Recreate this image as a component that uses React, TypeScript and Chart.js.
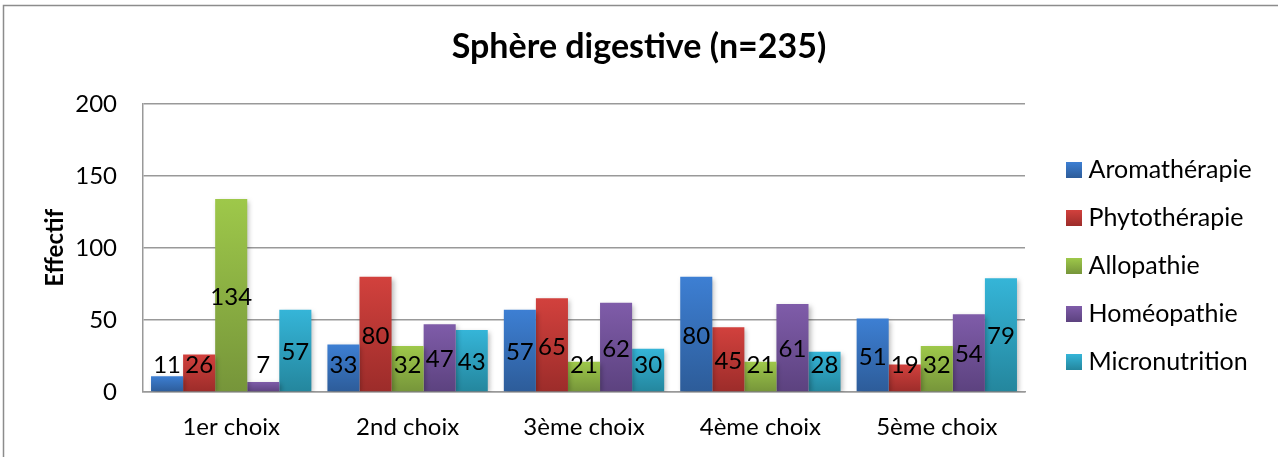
import React, { useEffect, useRef } from "react";
import { Chart, registerables } from "chart.js";

Chart.register(...registerables);

const categories = ["1er choix", "2nd choix", "3ème choix", "4ème choix", "5ème choix"];
const seriesNames = ["Aromathérapie", "Phytothérapie", "Allopathie", "Homéopathie", "Micronutrition"];
const aromatherapie = [11, 33, 57, 80, 51];
const phytotherapie = [26, 80, 65, 45, 19];
const allopathie = [134, 32, 21, 21, 32];
const homeopathie = [7, 47, 62, 61, 54];
const micronutrition = [57, 43, 30, 28, 79];
const yTicks = [0, 50, 100, 150, 200];

const topColors = ["#3D7FD3", "#D2413D", "#9EC84A", "#7F5CA9", "#35B5D8"];
const bottomColors = ["#2D5C99", "#9C2C2A", "#76953A", "#5C427F", "#24869D"];
const midColors = ["#3570BC", "#BC3935", "#8CB043", "#6F5195", "#2EA0BD"];

const FONT = "Lato, 'Open Sans', sans-serif";
const FS = 24;
const LEGEND_FS = 25;

const gradientFill = (i: number) => (ctx: any) => {
  const chart = ctx.chart;
  if (!chart.chartArea || ctx.raw === undefined || ctx.type !== "data") return midColors[i];
  const y = chart.scales.y;
  const top = y.getPixelForValue(ctx.raw);
  const base = y.getPixelForValue(0);
  if (!isFinite(top) || !isFinite(base) || top === base) return midColors[i];
  const g = chart.ctx.createLinearGradient(0, top, 0, base);
  g.addColorStop(0, topColors[i]);
  g.addColorStop(1, bottomColors[i]);
  return g;
};

const makeSwatch = (i: number) => {
  const cv = document.createElement("canvas");
  cv.width = 16;
  cv.height = 16;
  const c = cv.getContext("2d")!;
  const g = c.createLinearGradient(0, 0, 0, 16);
  g.addColorStop(0, topColors[i]);
  g.addColorStop(1, bottomColors[i]);
  c.fillStyle = g;
  c.fillRect(0, 0, 16, 16);
  return cv;
};

const frame = {
  id: "frame",
  beforeDraw(chart: any) {
    const c = chart.ctx;
    c.save();
    c.fillStyle = "#ffffff";
    c.fillRect(0, 0, chart.width, chart.height);
    c.strokeStyle = "#8c8c8c";
    c.lineWidth = 1.5;
    c.strokeRect(3.5, 5.5, chart.width + 10, chart.height + 10);
    c.restore();
  },
};

const shadow = {
  id: "barShadow",
  beforeDatasetsDraw(chart: any) {
    const c = chart.ctx;
    c.save();
    c.shadowColor = "rgba(0,0,0,0.28)";
    c.shadowBlur = 5;
    c.shadowOffsetX = 2;
    c.shadowOffsetY = 2;
  },
  afterDatasetsDraw(chart: any) {
    chart.ctx.restore();
  },
};

const labels = {
  id: "centerLabels",
  afterDatasetsDraw(chart: any) {
    const c = chart.ctx;
    c.save();
    c.font = `${FS}px ${FONT}`;
    c.fillStyle = "#000000";
    c.textAlign = "center";
    c.textBaseline = "middle";
    chart.data.datasets.forEach((ds: any, di: number) => {
      const meta = chart.getDatasetMeta(di);
      meta.data.forEach((el: any, i: number) => {
        const mid = (el.y + el.base) / 2;
        const y = Math.min(mid, el.base - 28) + 2;
        c.fillText(String(ds.data[i]), el.x, y);
      });
    });
    c.restore();
  },
};

export default function App() {
  const ref = useRef<HTMLCanvasElement | null>(null);
  useEffect(() => {
    if (!ref.current) return;
    const seriesData = [aromatherapie, phytotherapie, allopathie, homeopathie, micronutrition];
    const swatches = seriesNames.map((_, i) => makeSwatch(i));
    const chart = new Chart(ref.current, {
      type: "bar",
      data: {
        labels: categories,
        datasets: seriesNames.map((name, i) => ({
          label: name,
          data: seriesData[i],
          backgroundColor: gradientFill(i),
          borderWidth: 0,
          barPercentage: 1,
          categoryPercentage: 0.909,
          yAxisID: "y",
        })),
      },
      options: {
        animation: false,
        responsive: false,
        maintainAspectRatio: false,
        layout: { padding: { left: 24, right: 24, top: 0, bottom: 0 } },
        plugins: {
          title: {
            display: true,
            text: "Sphère digestive (n=235)",
            color: "#000000",
            font: { family: FONT, size: 34, weight: "bold" },
            padding: { top: 27, bottom: 36 },
          },
          legend: {
            position: "right",
            title: {
              display: true,
              text: " ",
              font: { family: FONT, size: 13, lineHeight: 1 },
              padding: { top: 62, bottom: 0 },
            },
            labels: {
              color: "#000000",
              font: { family: FONT, size: LEGEND_FS },
              usePointStyle: true,
              pointStyleWidth: 4,
              boxWidth: 16,
              boxHeight: 16,
              padding: 23,
              generateLabels: (chart: any) =>
                chart.data.datasets.map((ds: any, i: number) => ({
                  text: ds.label,
                  fillStyle: midColors[i],
                  strokeStyle: midColors[i],
                  lineWidth: 0,
                  pointStyle: swatches[i],
                  hidden: false,
                  datasetIndex: i,
                  fontColor: "#000000",
                })),
            },
          },
          tooltip: { enabled: false },
        },
        scales: {
          x: {
            grid: { display: false, drawTicks: false },
            border: { display: true, color: "#999999", width: 1.5 },
            ticks: { color: "#000000", font: { family: FONT, size: FS }, padding: 21 },
            afterFit: (scale: any) => {
              scale.height = 65;
            },
          },
          y: {
            min: 0,
            max: 200,
            afterBuildTicks: (scale: any) => {
              scale.ticks = yTicks.map((v) => ({ value: v }));
            },
            afterFit: (scale: any) => {
              scale.width = 119;
            },
            grid: { color: "#999999", lineWidth: 1.5, drawTicks: false },
            border: { display: true, color: "#999999", width: 1.5 },
            ticks: { color: "#000000", font: { family: FONT, size: FS }, padding: 26 },
            title: {
              display: true,
              text: "Effectif",
              color: "#000000",
              font: { family: FONT, size: FS, weight: "bold" },
              padding: { top: 17, bottom: 0 },
            },
          },
          gap: {
            type: "linear",
            position: "right",
            display: true,
            grid: { display: false, drawTicks: false },
            border: { display: false },
            ticks: { display: false },
            afterFit: (scale: any) => {
              scale.width = 24;
            },
          },
        },
      },
      plugins: [frame, shadow, labels],
    });
    return () => chart.destroy();
  }, []);
  return (
    <div style={{ position: "fixed", left: 0, top: 0, width: 1278, height: 457, background: "#fff" }}>
      <canvas ref={ref} width={1278} height={457} style={{ display: "block", width: 1278, height: 457 }} />
    </div>
  );
}
